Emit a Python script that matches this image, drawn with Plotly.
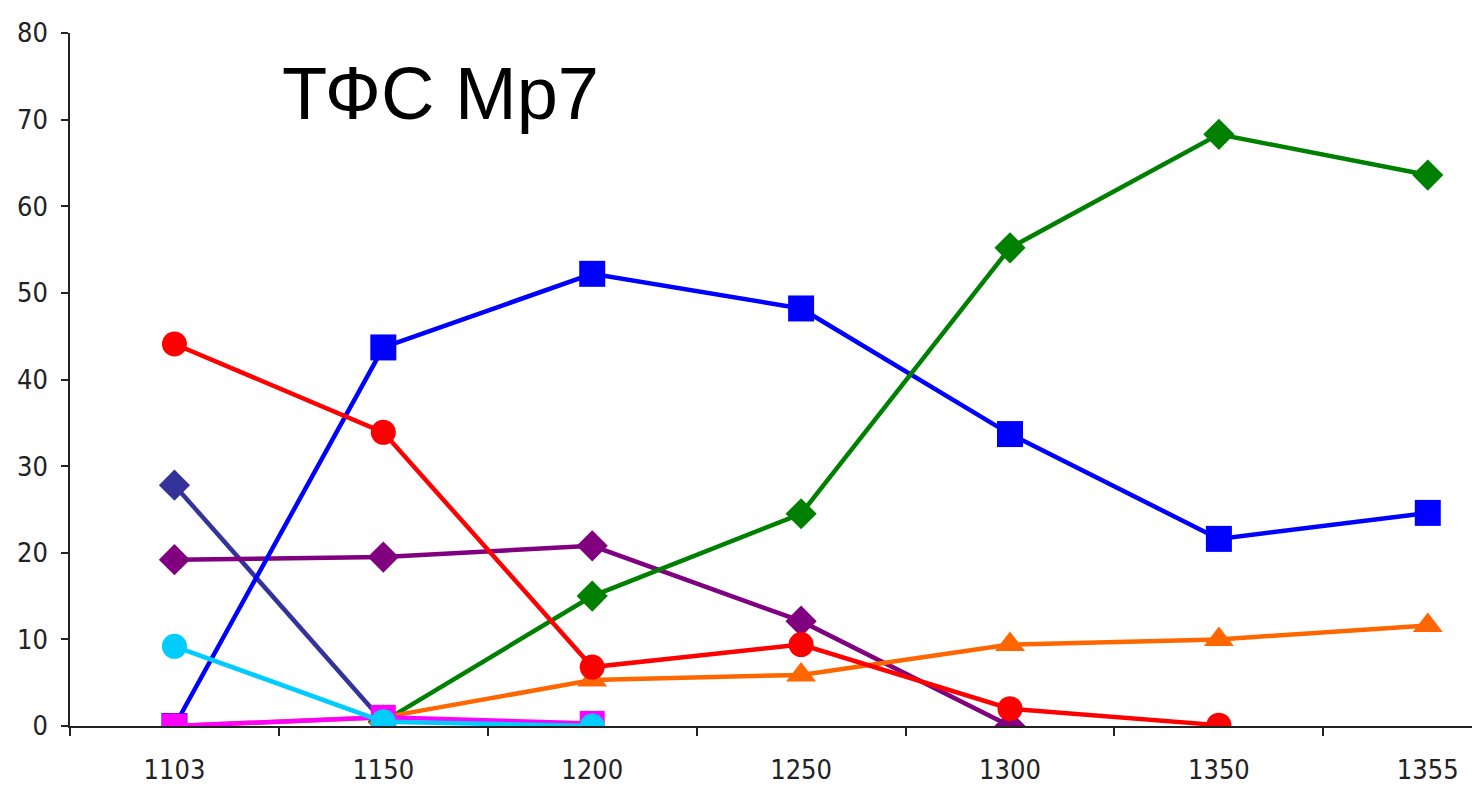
import plotly.graph_objects as go

categories = ["1103", "1150", "1200", "1250", "1300", "1350", "1355"]

s_slate = [27.8, 0.5, None, None, None, None, None]
s_purple = [19.2, 19.5, 20.8, 12.1, 0.0, None, None]
s_blue = [0.0, 43.7, 52.2, 48.2, 33.7, 21.6, 24.6]
s_green = [None, 0.5, 15.0, 24.5, 55.2, 68.3, 63.6]
s_red = [44.1, 33.9, 6.8, 9.4, 2.0, 0.1, None]
s_orange = [0.0, 1.0, 5.3, 5.9, 9.4, 10.0, 11.6]
s_magenta = [0.0, 1.0, 0.3, None, None, None, None]
s_cyan = [9.2, 0.5, 0.0, None, None, None, None]

series = [
    ("s1", s_slate, "#333399", "diamond", 24),
    ("s2", s_purple, "#800080", "diamond", 24),
    ("s3", s_blue, "#0000FF", "square", 26),
    ("s4", s_green, "#008000", "diamond", 24),
    ("s5", s_orange, "#FF6600", "triangle-up", 26),
    ("s6", s_red, "#FF0000", "circle", 25),
    ("s7", s_magenta, "#FF00FF", "square", 25),
    ("s8", s_cyan, "#00CCFF", "circle", 25),
]

fig = go.Figure()
for name, vals, col, sym, sz in series:
    fig.add_trace(go.Scatter(
        x=categories, y=vals, name=name, mode="lines+markers",
        line=dict(color=col, width=4.5),
        marker=dict(color=col, symbol=sym, size=sz, line=dict(width=0)),
        connectgaps=False, showlegend=False,
    ))

fig.add_annotation(
    text="ТФС Мр7", xref="paper", yref="paper", x=0.149, y=0.912,
    xanchor="left", yanchor="middle", showarrow=False,
    font=dict(family="Liberation Sans, Arial", size=74, color="black"),
)

tickfont = dict(family="DejaVu Sans Condensed, Liberation Sans Narrow, Liberation Sans", size=27, color="#222222")
fig.update_layout(
    width=1480, height=793,
    margin=dict(l=62, r=8, t=25, b=75),
    paper_bgcolor="white", plot_bgcolor="white",
    xaxis=dict(
        type="category", range=[-0.5, 6.25], tickson="boundaries",
        ticks="outside", ticklen=8, tickcolor="#222222", tickwidth=1.5,
        showline=True, linecolor="#222222", linewidth=1.5, automargin=False,
        ticklabelstandoff=19,
        showgrid=False, zeroline=False, tickfont=tickfont,
    ),
    yaxis=dict(
        range=[0, 80], dtick=10, ticks="outside", ticklen=7,
        tickcolor="#222222", tickwidth=1.5, automargin=False,
        ticklabelstandoff=8,
        showline=True, linecolor="#222222", linewidth=1.5,
        showgrid=False, zeroline=False, tickfont=tickfont,
    ),
)

fig.write_html("out.html")
